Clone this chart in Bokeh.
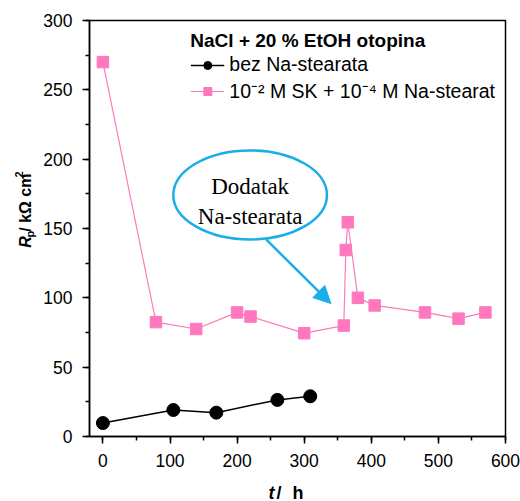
import math
from bokeh.plotting import figure
from bokeh.layouts import column, row
from bokeh.models import (Range1d, SingleIntervalTicker, Label, Arrow, NormalHead)
from bokeh.embed import file_html
from bokeh.resources import INLINE

# ---- data ----
t_bez = [0, 105, 169, 260, 309]
rp_bez = [9.7, 19.1, 17.2, 26.4, 29.0]

t_sk = [0, 79, 139, 200, 220, 300, 359, 362, 365, 380, 405, 480, 530, 570]
rp_sk = [270, 82.5, 77.5, 89.5, 86.5, 74.5, 80, 134.5, 154.5, 100, 94.5, 89.5, 85, 89.5]

label_bez = "bez Na-stearata"
label_sk = "10\u207b\u00b2 M SK + 10\u207b\u2074 M Na-stearat"
legend_title = "NaCl + 20 % EtOH otopina"

PINK = "#FF78BE"
CYAN = "#1AAEE8"
SANS = "Liberation Sans"

YW = 40      # width of the y-title strip
MH = 476     # height of the main figure
XH = 25      # height of the x-title strip

p = figure(width=520 - YW, height=MH, output_backend="svg", toolbar_location=None,
           x_range=Range1d(-20, 600), y_range=Range1d(0, 300),
           min_border_left=88 - YW, min_border_right=15, min_border_top=20,
           min_border_bottom=MH - 436)
p.grid.visible = False
p.outline_line_color = "black"
p.outline_line_width = 1.5
p.background_fill_color = "white"
p.border_fill_color = "white"

p.xaxis.ticker = SingleIntervalTicker(interval=100, num_minor_ticks=2)
p.yaxis.ticker = SingleIntervalTicker(interval=50, num_minor_ticks=2)
for ax in (p.xaxis, p.yaxis):
    ax.axis_line_width = 1.5
    ax.axis_line_color = "black"
    ax.major_tick_line_width = 1.5
    ax.minor_tick_line_width = 1.5
    ax.major_tick_out = 7
    ax.major_tick_in = 0
    ax.minor_tick_out = 4
    ax.minor_tick_in = 0
    ax.major_label_text_font = SANS
    ax.major_label_text_font_size = "17.5px"
    ax.major_label_text_color = "black"
p.yaxis.major_label_standoff = 10
p.xaxis.major_label_standoff = 10

# series
p.line(t_bez, rp_bez, line_color="black", line_width=1.5, legend_label=label_bez)
p.scatter(t_bez, rp_bez, marker="circle", size=13, fill_color="black", line_color="black",
          legend_label=label_bez)
p.line(t_sk, rp_sk, line_color=PINK, line_width=1.2, legend_label=label_sk)
p.scatter(t_sk, rp_sk, marker="square", size=11.5, fill_color=PINK, line_color=PINK,
          legend_label=label_sk)

lg = p.legend[0]
lg.location = "top_right"
lg.margin = 0
lg.padding = 10
lg.border_line_alpha = 0
lg.background_fill_alpha = 0
lg.title = legend_title
lg.title_text_font = SANS
lg.title_text_font_style = "bold"
lg.title_text_font_size = "19px"
lg.title_text_color = "black"
lg.title_standoff = 1
lg.label_text_font = SANS
lg.label_text_font_size = "19.5px"
lg.label_text_color = "black"
lg.glyph_width = 34
lg.glyph_height = 20
lg.label_height = 20
lg.label_standoff = 5
lg.spacing = 1

# annotation: ellipse + arrow + text
p.ellipse(x=[219.4], y=[174.2], width=229, height=64.2, fill_color="white",
          line_color=CYAN, line_width=2.5)
p.add_layout(Arrow(end=NormalHead(size=17, fill_color=CYAN, line_color=CYAN),
                   x_start=243.2, y_start=142.1, x_end=339.8, y_end=95.9,
                   line_color=CYAN, line_width=2.5))
for txt, yy in (("Dodatak", 180.3), ("Na-stearata", 159.0)):
    p.add_layout(Label(x=219.4, y=yy, text=txt, text_align="center",
                       text_baseline="alphabetic", text_font="Liberation Serif",
                       text_font_size="23px", text_color="black"))


def strip(w, h):
    f = figure(width=w, height=h, output_backend="svg", toolbar_location=None,
               x_range=Range1d(0, w), y_range=Range1d(0, h),
               x_axis_location=None, y_axis_location=None, min_border=0)
    f.grid.visible = False
    f.outline_line_color = None
    f.background_fill_color = "white"
    f.border_fill_color = "white"
    return f


def lab(f, x, y, text, size, style, angle=0.0):
    f.add_layout(Label(x=x, y=y, text=text, angle=angle, text_align="left",
                       text_baseline="alphabetic", text_font=SANS, text_font_size=size,
                       text_font_style=style, text_color="black"))


# y-axis title: R_p / kΩ cm^2
yf = strip(YW, MH)
ang = math.pi / 2
lab(yf, 25, MH - 260, "R", "16px", "bold italic", ang)
lab(yf, 29, MH - 248.4, "p", "11px", "bold", ang)
lab(yf, 25, MH - 241.7, " / k\u03a9 cm", "16px", "bold", ang)
lab(yf, 18, MH - 179.7, "2", "11px", "bold", ang)

# x-axis title: t / h
xf = strip(520, XH)
lab(xf, 268, 9, "t", "18px", "bold italic")
lab(xf, 276, 9, "/", "18px", "bold")
lab(xf, 292, 9, "h", "18px", "bold")

layout = column(row(yf, p, spacing=0), xf, spacing=0)
open("out.html", "w").write(file_html(layout, INLINE))
